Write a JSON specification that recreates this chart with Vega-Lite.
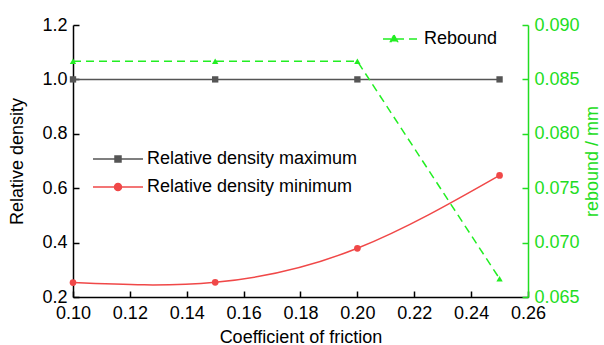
{
  "$schema": "https://vega.github.io/schema/vega-lite/v6.json",
  "width": 455,
  "height": 272,
  "autosize": {"type": "none"},
  "padding": {"left": 73, "top": 25, "right": 76, "bottom": 48},
  "background": "white",
  "config": {
    "view": {"stroke": null},
    "font": "Liberation Sans",
    "axis": {"labelFont": "Liberation Sans", "titleFont": "Liberation Sans", "labelFontSize": 18, "titleFontSize": 18, "titleFontWeight": "normal", "labelColor": "#000", "titleColor": "#000", "domainColor": "#000", "domainWidth": 1.5, "tickColor": "#000", "tickWidth": 1.5, "tickSize": -6, "grid": false},
    "legend": {"labelFont": "Liberation Sans", "labelFontSize": 18, "labelColor": "#000", "labelLimit": 0}
  },
  "datasets": {
    "density": [
      {"friction": 0.10, "series": "Relative density maximum", "value": 1.0},
      {"friction": 0.15, "series": "Relative density maximum", "value": 1.0},
      {"friction": 0.20, "series": "Relative density maximum", "value": 1.0},
      {"friction": 0.25, "series": "Relative density maximum", "value": 1.0},
      {"friction": 0.10, "series": "Relative density minimum", "value": 0.253},
      {"friction": 0.15, "series": "Relative density minimum", "value": 0.254},
      {"friction": 0.20, "series": "Relative density minimum", "value": 0.379},
      {"friction": 0.25, "series": "Relative density minimum", "value": 0.647}
    ],
    "rebound": [
      {"friction": 0.10, "series": "Rebound", "rebound": 0.08667},
      {"friction": 0.15, "series": "Rebound", "rebound": 0.08667},
      {"friction": 0.20, "series": "Rebound", "rebound": 0.08667},
      {"friction": 0.25, "series": "Rebound", "rebound": 0.06668}
    ]
  },
  "encoding": {
    "x": {
      "field": "friction", "type": "quantitative",
      "scale": {"domain": [0.10, 0.26], "nice": false, "zero": false},
      "axis": {"values": [0.10, 0.12, 0.14, 0.16, 0.18, 0.20, 0.22, 0.24, 0.26], "format": ".2f", "title": "Coefficient of friction", "titlePadding": 6, "labelPadding": 13, "labelFlush": false}
    }
  },
  "layer": [
    {
      "data": {"name": "density"},
      "encoding": {
        "y": {
          "field": "value", "type": "quantitative",
          "scale": {"domain": [0.2, 1.2], "nice": false, "zero": false},
          "axis": {"values": [0.2, 0.4, 0.6, 0.8, 1.0, 1.2], "format": ".1f", "title": "Relative density", "titlePadding": 15, "labelPadding": 12}
        },
        "color": {
          "field": "series", "type": "nominal",
          "scale": {"domain": ["Relative density maximum", "Relative density minimum"], "range": ["#555555", "#f04848"]},
          "legend": {
            "title": null, "orient": "none", "legendX": 34, "legendY": 123,
            "symbolSize": 400, "symbolStrokeWidth": 1.5, "rowPadding": 8, "labelOffset": 18,
            "encode": {"symbols": {"update": {
              "fill": {"scale": "color", "field": "value"},
              "shape": {"signal": "datum.value === 'Relative density minimum' ? 'M-2.5,0H2.5M-0.35,0A0.35,0.35,0,1,1,0.35,0A0.35,0.35,0,1,1,-0.35,0Z' : 'M-2.5,0H2.5M-0.3,-0.3H0.3V0.3H-0.3Z'"}
            }}}
          }
        }
      },
      "layer": [
        {"mark": {"type": "line", "interpolate": "natural", "strokeWidth": 1.5}},
        {
          "transform": [{"filter": "datum.series === 'Relative density maximum'"}],
          "mark": {"type": "point", "shape": "square", "filled": true, "size": 40, "opacity": 1}
        },
        {
          "transform": [{"filter": "datum.series === 'Relative density minimum'"}],
          "mark": {"type": "point", "shape": "circle", "filled": true, "size": 45, "opacity": 1}
        }
      ]
    },
    {
      "data": {"name": "rebound"},
      "encoding": {
        "y": {
          "field": "rebound", "type": "quantitative",
          "scale": {"domain": [0.065, 0.090], "nice": false, "zero": false},
          "axis": {"orient": "right", "values": [0.065, 0.070, 0.075, 0.080, 0.085, 0.090], "format": ".3f", "title": "rebound / mm", "titleAngle": 270, "titlePadding": 22, "labelPadding": 12, "labelColor": "#22dd22", "titleColor": "#22dd22", "domainColor": "#22dd22", "tickColor": "#22dd22"}
        }
      },
      "layer": [
        {
          "mark": {"type": "line", "color": "#22ee22", "strokeWidth": 1.5},
          "encoding": {
            "strokeDash": {
              "field": "series", "type": "nominal",
              "scale": {"domain": ["Rebound"], "range": [[8, 5]]},
              "legend": {
                "title": null, "orient": "none", "legendX": 318, "legendY": 3,
                "symbolType": "M-1.9,0H1.9M-0.8,-0.4L-0.45,0.25H-1.15Z",
                "symbolSize": 400, "symbolStrokeWidth": 1.5, "symbolStrokeColor": "#22ee22", "symbolFillColor": "#22ee22", "labelOffset": 11
              }
            }
          }
        },
        {"mark": {"type": "point", "shape": "triangle-up", "filled": true, "size": 40, "color": "#22ee22", "opacity": 1}}
      ]
    }
  ],
  "resolve": {"scale": {"y": "independent"}, "axis": {"y": "independent"}}
}
